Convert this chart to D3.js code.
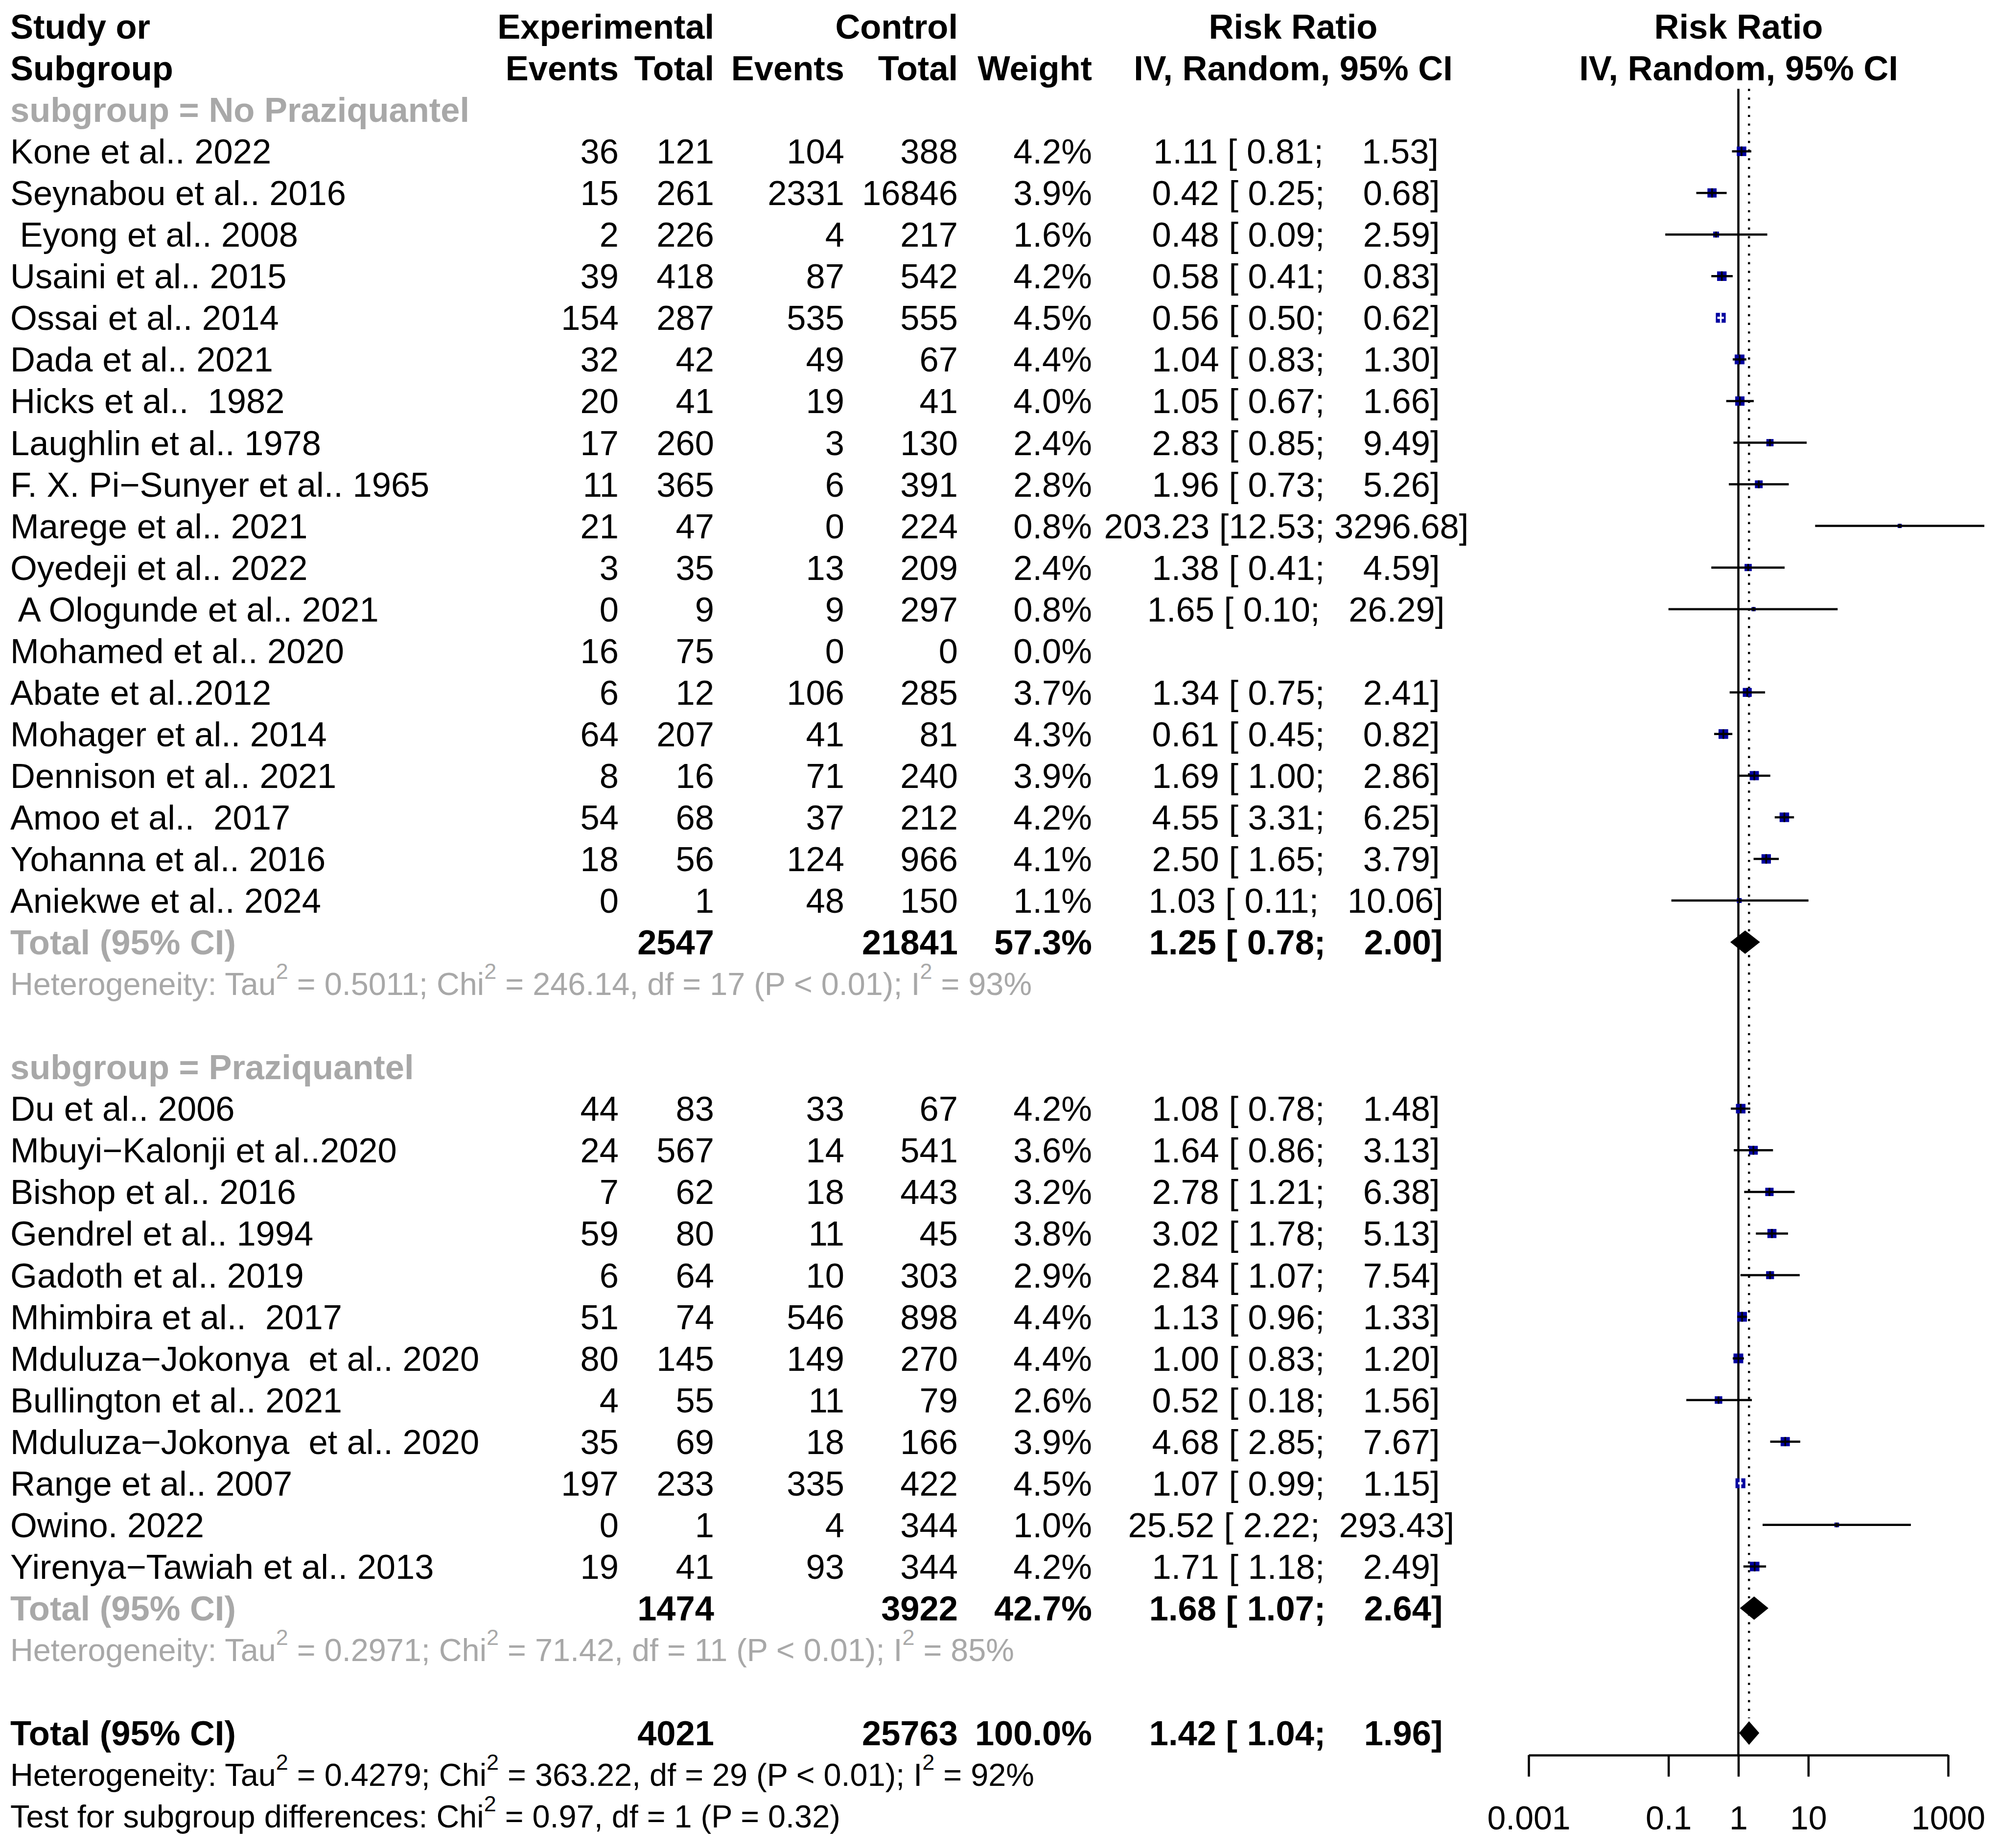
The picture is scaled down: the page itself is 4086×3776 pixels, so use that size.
<!DOCTYPE html>
<html><head><meta charset="utf-8">
<script src="https://cdn.jsdelivr.net/npm/d3@7"></script>
<style>
body{margin:0;background:#fff}
text{font-family:"Liberation Sans",Arial,Helvetica,sans-serif;white-space:pre}
</style>
</head><body><svg id="chart"></svg>
<script>
// ---------------- DATA ----------------
const subgroupNames = ["No Praziquantel", "Praziquantel"];

const studyLabels1 = ["Kone et al.. 2022","Seynabou et al.. 2016"," Eyong et al.. 2008","Usaini et al.. 2015","Ossai et al.. 2014","Dada et al.. 2021","Hicks et al..  1982","Laughlin et al.. 1978","F. X. Pi\u2212Sunyer et al.. 1965","Marege et al.. 2021","Oyedeji et al.. 2022"," A Ologunde et al.. 2021","Mohamed et al.. 2020","Abate et al..2012","Mohager et al.. 2014","Dennison et al.. 2021","Amoo et al..  2017","Yohanna et al.. 2016","Aniekwe et al.. 2024"];
const expEvents1 = [36,15,2,39,154,32,20,17,11,21,3,0,16,6,64,8,54,18,0];
const expTotal1  = [121,261,226,418,287,42,41,260,365,47,35,9,75,12,207,16,68,56,1];
const ctrlEvents1 = [104,2331,4,87,535,49,19,3,6,0,13,9,0,106,41,71,37,124,48];
const ctrlTotal1  = [388,16846,217,542,555,67,41,130,391,224,209,297,0,285,81,240,212,966,150];
const weights1 = [4.2,3.9,1.6,4.2,4.5,4.4,4.0,2.4,2.8,0.8,2.4,0.8,0.0,3.7,4.3,3.9,4.2,4.1,1.1];
const rr1    = [1.11,0.42,0.48,0.58,0.56,1.04,1.05,2.83,1.96,203.23,1.38,1.65,null,1.34,0.61,1.69,4.55,2.50,1.03];
const lower1 = [0.81,0.25,0.09,0.41,0.50,0.83,0.67,0.85,0.73,12.53,0.41,0.10,null,0.75,0.45,1.00,3.31,1.65,0.11];
const upper1 = [1.53,0.68,2.59,0.83,0.62,1.30,1.66,9.49,5.26,3296.68,4.59,26.29,null,2.41,0.82,2.86,6.25,3.79,10.06];

const studyLabels2 = ["Du et al.. 2006","Mbuyi\u2212Kalonji et al..2020","Bishop et al.. 2016","Gendrel et al.. 1994","Gadoth et al.. 2019","Mhimbira et al..  2017","Mduluza\u2212Jokonya  et al.. 2020","Bullington et al.. 2021","Mduluza\u2212Jokonya  et al.. 2020","Range et al.. 2007","Owino. 2022","Yirenya\u2212Tawiah et al.. 2013"];
const expEvents2 = [44,24,7,59,6,51,80,4,35,197,0,19];
const expTotal2  = [83,567,62,80,64,74,145,55,69,233,1,41];
const ctrlEvents2 = [33,14,18,11,10,546,149,11,18,335,4,93];
const ctrlTotal2  = [67,541,443,45,303,898,270,79,166,422,344,344];
const weights2 = [4.2,3.6,3.2,3.8,2.9,4.4,4.4,2.6,3.9,4.5,1.0,4.2];
const rr2    = [1.08,1.64,2.78,3.02,2.84,1.13,1.00,0.52,4.68,1.07,25.52,1.71];
const lower2 = [0.78,0.86,1.21,1.78,1.07,0.96,0.83,0.18,2.85,0.99,2.22,1.18];
const upper2 = [1.48,3.13,6.38,5.13,7.54,1.33,1.20,1.56,7.67,1.15,293.43,2.49];

const totalExp = [2547, 1474];
const totalCtrl = [21841, 3922];
const totalWeight = [57.3, 42.7];
const totalRR = [1.25, 1.68];
const totalLower = [0.78, 1.07];
const totalUpper = [2.00, 2.64];
const hetTau2 = ["0.5011", "0.2971"];
const hetChi2 = ["246.14", "71.42"];
const hetDf = [17, 11];
const hetI2 = [93, 85];

const overallExp = 4021, overallCtrl = 25763, overallWeight = 100.0;
const overallRR = 1.42, overallLower = 1.04, overallUpper = 1.96;
const overallTau2 = "0.4279", overallChi2 = "363.22", overallDf = 29, overallI2 = 92;
const testChi2 = "0.97", testDf = 1, testP = "0.32";

const axisTicks = [0.001, 0.1, 1, 10, 1000];
const tickLabels = ["0.001", "0.1", "1", "10", "1000"];

// ---------------- LAYOUT ----------------
const W = 4086, H = 3776;
const FS = 70.5, FS_HET = 64.8;
const GRAY = "#a8a8a8", BLUE = "#0000a0";
const colX = {label: 21, expEv: 1264, expTot: 1459, ctrlEv: 1725, ctrlTot: 1957, weight: 2231, ci: 2628, ciHead: 2642, plotHead: 3552};

const svg = d3.select("#chart").attr("width", W).attr("height", H).attr("viewBox", `0 0 ${W} ${H}`);
svg.append("rect").attr("width", W).attr("height", H).attr("fill", "#fff");

const rowY = d3.scaleLinear().domain([0, 1]).range([54, 54 + 85.05]);
const x = d3.scaleLog().domain([0.001, 1000]).range([3123, 3980]);

const gText = svg.append("g");
function txt(xp, i, str, o = {}) {
  const size = o.size || FS;
  return gText.append("text")
    .attr("x", xp).attr("y", rowY(i) + size * 0.355)
    .attr("xml:space", "preserve")
    .attr("text-anchor", o.anchor || "start")
    .attr("font-weight", o.bold ? "bold" : "normal")
    .attr("font-size", size)
    .attr("fill", o.color || "#000")
    .text(str);
}
function rich(xp, i, parts, o = {}) {
  const size = o.size || FS_HET;
  const t = gText.append("text")
    .attr("x", xp).attr("y", rowY(i) + size * 0.355)
    .attr("xml:space", "preserve")
    .attr("font-size", size)
    .attr("fill", o.color || "#000");
  let raised = false;
  parts.forEach(p => {
    const sup = p.startsWith("^");
    const s = sup ? p.slice(1) : p;
    const ts = t.append("tspan").text(s);
    if (sup) { ts.attr("font-size", 45).attr("dy", -33); raised = true; }
    else if (raised) { ts.attr("dy", 33); raised = false; }
  });
  return t;
}
const f2 = v => v.toFixed(2);
const ciStr = (r, l, u) => f2(r).padStart(6, " ") + " [" + f2(l).padStart(5, " ") + "; " + f2(u).padStart(7, " ") + "]";
const pct = w => w.toFixed(1) + "%";

// headers
txt(colX.label, 0, "Study or", {bold: true});
txt(colX.label, 1, "Subgroup", {bold: true});
txt(colX.expTot, 0, "Experimental", {bold: true, anchor: "end"});
txt(colX.ctrlTot, 0, "Control", {bold: true, anchor: "end"});
txt(colX.ciHead, 0, "Risk Ratio", {bold: true, anchor: "middle"});
txt(colX.plotHead, 0, "Risk Ratio", {bold: true, anchor: "middle"});
txt(colX.expEv, 1, "Events", {bold: true, anchor: "end"});
txt(colX.expTot, 1, "Total", {bold: true, anchor: "end"});
txt(colX.ctrlEv, 1, "Events", {bold: true, anchor: "end"});
txt(colX.ctrlTot, 1, "Total", {bold: true, anchor: "end"});
txt(colX.weight, 1, "Weight", {bold: true, anchor: "end"});
txt(colX.ciHead, 1, "IV, Random, 95% CI", {bold: true, anchor: "middle"});
txt(colX.plotHead, 1, "IV, Random, 95% CI", {bold: true, anchor: "middle"});

// reference lines (drawn first)
const gPlot = svg.append("g");
const axisY = rowY(41.53);
gPlot.append("line").attr("x1", x(1)).attr("x2", x(1)).attr("y1", rowY(1.5)).attr("y2", axisY)
  .attr("stroke", "#000").attr("stroke-width", 4.5);
gPlot.append("line").attr("x1", x(overallRR)).attr("x2", x(overallRR)).attr("y1", rowY(1.5)).attr("y2", rowY(41) - 30)
  .attr("stroke", "#000").attr("stroke-width", 4.4).attr("stroke-dasharray", "4.4,13.3");

const groups = [
  {labels: studyLabels1, ee: expEvents1, et: expTotal1, ce: ctrlEvents1, ct: ctrlTotal1, w: weights1, rr: rr1, lo: lower1, hi: upper1},
  {labels: studyLabels2, ee: expEvents2, et: expTotal2, ce: ctrlEvents2, ct: ctrlTotal2, w: weights2, rr: rr2, lo: lower2, hi: upper2}
];

function diamond(i, r, l, u) {
  const y = rowY(i), h = 23;
  gPlot.append("path")
    .attr("d", `M${x(l)},${y}L${x(r)},${y - h}L${x(u)},${y}L${x(r)},${y + h}Z`)
    .attr("fill", "#000").attr("stroke", "#000").attr("stroke-width", 1.5);
}

let row = 2;
groups.forEach((g, gi) => {
  txt(colX.label, row, "subgroup = " + subgroupNames[gi], {bold: true, color: GRAY});
  row++;
  g.labels.forEach((lab, k) => {
    txt(colX.label, row, lab);
    txt(colX.expEv, row, String(g.ee[k]), {anchor: "end"});
    txt(colX.expTot, row, String(g.et[k]), {anchor: "end"});
    txt(colX.ctrlEv, row, String(g.ce[k]), {anchor: "end"});
    txt(colX.ctrlTot, row, String(g.ct[k]), {anchor: "end"});
    txt(colX.weight, row, pct(g.w[k]), {anchor: "end"});
    if (g.rr[k] != null) {
      txt(colX.ci, row, ciStr(g.rr[k], g.lo[k], g.hi[k]), {anchor: "middle"});
      const y = rowY(row);
      const side = 9.5 * Math.sqrt(g.w[k]);
      const cx = x(g.rr[k]);
      const x1 = x(g.lo[k]), x2 = x(g.hi[k]);
      const inside = (x2 - x1) < side;
      const lc = inside ? "#fff" : "#000";
      gPlot.append("rect").attr("x", cx - side / 2).attr("y", y - side / 2)
        .attr("width", side).attr("height", side).attr("fill", BLUE);
      gPlot.append("line").attr("x1", x1).attr("x2", x2).attr("y1", y).attr("y2", y)
        .attr("stroke", lc).attr("stroke-width", 4.5);
      gPlot.append("line").attr("x1", cx).attr("x2", cx).attr("y1", y - side / 2).attr("y2", y + side / 2)
        .attr("stroke", lc).attr("stroke-width", 3.5);
    }
    row++;
  });
  // subgroup total
  txt(colX.label, row, "Total (95% CI)", {bold: true, color: GRAY});
  txt(colX.expTot, row, String(totalExp[gi]), {bold: true, anchor: "end"});
  txt(colX.ctrlTot, row, String(totalCtrl[gi]), {bold: true, anchor: "end"});
  txt(colX.weight, row, pct(totalWeight[gi]), {bold: true, anchor: "end"});
  txt(colX.ci, row, ciStr(totalRR[gi], totalLower[gi], totalUpper[gi]), {bold: true, anchor: "middle"});
  diamond(row, totalRR[gi], totalLower[gi], totalUpper[gi]);
  rich(colX.label, row + 1, ["Heterogeneity: Tau", "^2", " = " + hetTau2[gi] + "; Chi", "^2",
    " = " + hetChi2[gi] + ", df = " + hetDf[gi] + " (P < 0.01); I", "^2", " = " + hetI2[gi] + "%"], {color: GRAY});
  row += 3;
});

// overall
txt(colX.label, row, "Total (95% CI)", {bold: true});
txt(colX.expTot, row, String(overallExp), {bold: true, anchor: "end"});
txt(colX.ctrlTot, row, String(overallCtrl), {bold: true, anchor: "end"});
txt(colX.weight, row, pct(overallWeight), {bold: true, anchor: "end"});
txt(colX.ci, row, ciStr(overallRR, overallLower, overallUpper), {bold: true, anchor: "middle"});
diamond(row, overallRR, overallLower, overallUpper);
rich(colX.label, row + 1, ["Heterogeneity: Tau", "^2", " = " + overallTau2 + "; Chi", "^2",
  " = " + overallChi2 + ", df = " + overallDf + " (P < 0.01); I", "^2", " = " + overallI2 + "%"]);
rich(colX.label, row + 2, ["Test for subgroup differences: Chi", "^2", " = " + testChi2 + ", df = " + testDf + " (P = " + testP + ")"]);

// axis
const axis = d3.axisBottom(x).tickValues(axisTicks).tickFormat((d, i) => tickLabels[i])
  .tickSize(44).tickSizeOuter(0).tickPadding(60);
const gAxis = svg.append("g").attr("transform", `translate(0,${axisY})`).call(axis);
gAxis.attr("font-size", null).attr("font-family", null);
gAxis.select(".domain").attr("stroke", "#000").attr("stroke-width", 4.5);
gAxis.selectAll(".tick line").attr("stroke", "#000").attr("stroke-width", 4.5);
gAxis.selectAll(".tick text").attr("font-size", 68).attr("fill", "#000");
</script>
</body></html>
